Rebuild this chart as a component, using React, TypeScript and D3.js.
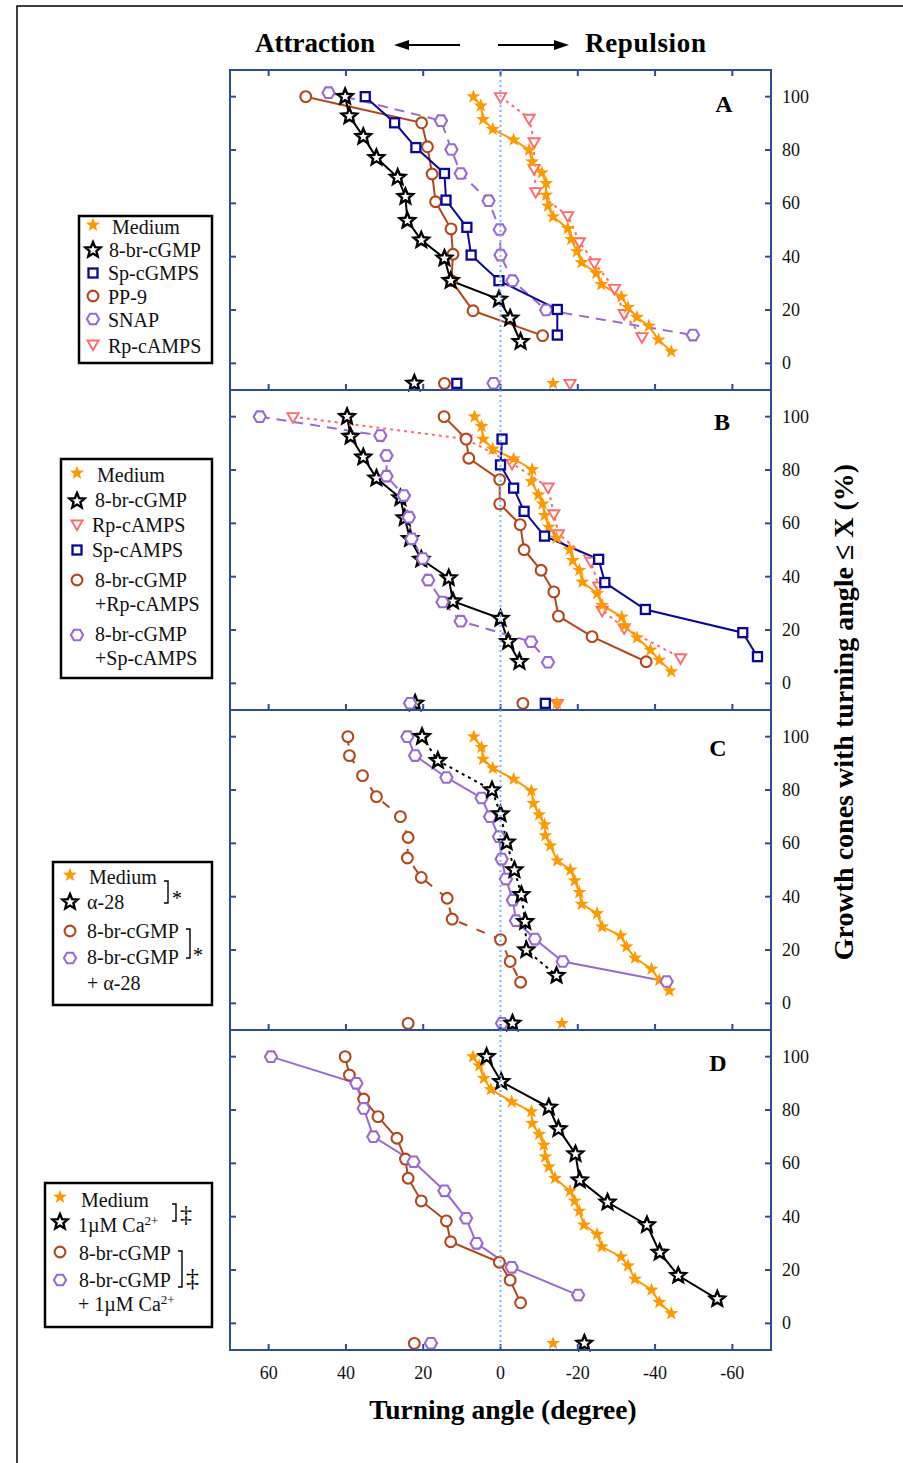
import React, { useRef, useEffect } from 'react';
import * as d3 from 'd3';

type Pt = [number, number];

// ---- Panel A : [turning angle, cumulative %] ----
const aMedium: Pt[] = [[7.0, 100], [5.1, 96.6], [4.5, 91.5], [2.0, 87.8], [-3.4, 83.8], [-7.4, 80], [-8.2, 75.6], [-10.7, 71.5], [-11.8, 67.5], [-11.8, 63.1], [-12.3, 59], [-13.6, 55], [-17.4, 50.6], [-18.3, 46.5], [-19.8, 41.9], [-21.0, 37.8], [-24.8, 33.8], [-26.1, 29.6], [-31.3, 25], [-33.0, 21], [-35.3, 17.3], [-38.4, 14], [-40.9, 8.8], [-44.2, 4.4]];
const aCgmp: Pt[] = [[40.2, 100], [39.1, 92.7], [35.5, 85], [32.1, 77.1], [26.6, 69.7], [24.6, 62.5], [24.1, 53.5], [20.5, 46.2], [14.5, 39.4], [12.9, 31], [0.4, 24], [-2.5, 16.9], [-5.2, 8.1]];
const aSpCgmps: Pt[] = [[35, 100], [27.4, 90.2], [21.9, 80.9], [14.5, 71.2], [14.1, 61.2], [8.7, 51], [7.6, 40.6], [0.4, 31], [-14.7, 20.2], [-14.7, 10.6]];
const aPP9: Pt[] = [[50.4, 100], [20.4, 90.2], [18.9, 81.2], [17.7, 71], [16.8, 60.6], [12.8, 50.4], [12.3, 40.9], [12.7, 31], [7.1, 19.7], [-10.9, 10.4]];
const aSnap: Pt[] = [[44.5, 101.5], [15.4, 91], [12.7, 80.2], [10.3, 71.2], [3.1, 61], [0.2, 50.2], [0, 40.6], [-3.1, 31], [-11.8, 20], [-49.8, 10.6]];
const aRp: Pt[] = [[0, 100], [-7.4, 91.9], [-8.7, 83.1], [-8.7, 73.1], [-9.1, 64.4], [-17.4, 55.4], [-20.4, 45.6], [-24.3, 37.7], [-29.5, 28.1], [-32, 18.7], [-36.6, 10]];
// means: medium, 8-br-cGMP, Sp-cGMPS, PP-9, SNAP, Rp-cAMPS
const meansA = [-13.6, 22.3, 11.3, 14.5, 1.8, -18];

// ---- Panel B ----
const bMedium: Pt[] = [[6.7, 100], [4.9, 96.4], [4.5, 91.6], [2.0, 87.9], [-3.4, 84.2], [-8.2, 80.2], [-8.0, 75.7], [-9.8, 70.7], [-10.9, 67.3], [-11.4, 63], [-12.5, 58.6], [-14.5, 54.5], [-17.9, 50.2], [-18.7, 46.1], [-20.4, 42.4], [-21.2, 38], [-25, 33.7], [-26.3, 29.3], [-31.4, 24.9], [-32.1, 21.6], [-35.3, 17.1], [-38.8, 12.5], [-41.1, 8.7], [-44.2, 4.4]];
const bCgmp: Pt[] = [[39.7, 100], [38.8, 92.6], [35.5, 84.8], [32.1, 76.9], [25.9, 69.5], [24.8, 62], [23.4, 54.2], [20.5, 46.5], [13.4, 39.5], [12.3, 30.8], [0, 24.3], [-2.0, 15.6], [-4.9, 8.1]];
const bRp: Pt[] = [[53.7, 100], [8.9, 91.6], [-3.0, 82.5], [-12.3, 73.6], [-13.8, 63.6], [-15, 56.1], [-23.4, 45.8], [-25.4, 36.5], [-26.3, 27.4], [-32, 20.8], [-46.6, 9.6]];
const bSpCamps: Pt[] = [[-0.4, 91.6], [0, 81.9], [-3.4, 73.2], [-6.1, 64.5], [-11.4, 55.2], [-25.4, 46.5], [-27.0, 37.8], [-37.5, 27.7], [-62.7, 19], [-66.5, 10]];
const bCgmpRp: Pt[] = [[14.6, 100], [8.9, 91.6], [8.2, 84.4], [0.2, 76.4], [0.2, 67.3], [-5.1, 59.5], [-6.1, 50.1], [-10.5, 42.4], [-13.8, 34.3], [-15, 25.2], [-23.7, 17.5], [-37.7, 8.1]];
const bCgmpSp: Pt[] = [[62.3, 100], [31.1, 92.9], [29.5, 85.4], [29.5, 77.7], [25, 70.4], [23.7, 62.3], [23, 54.2], [20.1, 46.8], [18.7, 38.7], [15, 30.5], [10.3, 23.3], [-7.9, 15.6], [-12.3, 7.9]];
// means: medium, 8-br-cGMP, Rp-cAMPS, Sp-cAMPS, +Rp, +Sp
const meansB = [-14.6, 22.1, -14.7, -11.6, -5.8, 23.4];

// ---- Panel C ----
const cMedium: Pt[] = [[6.9, 100], [4.9, 96], [4.5, 91.6], [2.0, 88.2], [-3.4, 84.1], [-8.0, 79.7], [-8.5, 75], [-10, 70.7], [-11.4, 67], [-11.6, 62.9], [-12.9, 59.1], [-14.7, 53.5], [-18.1, 50], [-19.2, 46], [-20.4, 41.6], [-21, 37.2], [-25, 33.7], [-26.3, 28.7], [-31.1, 25.4], [-32.6, 21.2], [-34.8, 17], [-39.1, 12.9], [-41.1, 8.7], [-43.7, 4.7]];
const cAlpha: Pt[] = [[20.3, 100], [16.2, 91], [2.2, 80], [0, 71], [-1.6, 60.4], [-3.6, 50], [-5.4, 40.7], [-6.4, 30.6], [-6.7, 20], [-14.5, 10.4]];
const cCgmp: Pt[] = [[39.5, 100], [39.1, 92.9], [35.7, 85.4], [32.1, 77.5], [25.9, 70], [23.9, 62.2], [24.1, 54.5], [20.5, 47.2], [13.8, 39.4], [12.5, 31.6], [0, 23.9], [-2.5, 15.7], [-5.2, 7.9]];
const cCgmpAlpha: Pt[] = [[24.1, 100], [22.1, 92.9], [14, 84.7], [4.9, 77], [2.7, 70], [0.4, 62.5], [-0.3, 54.1], [-1.4, 46.6], [-3.2, 38.7], [-4.0, 31], [-8.9, 24.1], [-16.1, 15.7], [-43, 8.2]];
// means: medium, α-28, 8-br-cGMP, 8-br-cGMP + α-28
const meansC = [-15.9, -3.1, 23.9, -0.4];

// ---- Panel D ----
const dMedium: Pt[] = [[7.1, 100], [5.5, 96.6], [4.3, 91.9], [2.5, 87.7], [-2.9, 83.1], [-8.0, 79.4], [-8.2, 75], [-10, 70.9], [-11.2, 66.9], [-11.6, 62.5], [-12.5, 58.7], [-14.1, 54.4], [-18, 49.6], [-19.2, 45.9], [-20.4, 42.1], [-21.6, 36.9], [-25, 33.4], [-26.2, 28.7], [-31.2, 25], [-33, 21.6], [-34.8, 16.6], [-39.1, 12.5], [-41.1, 7.9], [-44.2, 3.7]];
const dCa: Pt[] = [[3.6, 100], [-0.2, 90.6], [-12.5, 81], [-15, 72.9], [-19.4, 63.5], [-20.5, 53.7], [-27.7, 45.4], [-37.9, 36.9], [-41.2, 26.6], [-46, 17.9], [-56.1, 9.1]];
const dCgmp: Pt[] = [[40.2, 100], [39.1, 93.1], [35.4, 84.1], [31.7, 77.5], [26.8, 69.4], [24.6, 61.6], [23.9, 54.4], [20.5, 45.9], [14, 38.4], [12.9, 30.6], [0.3, 22.9], [-2.5, 16.2], [-5.2, 7.7]];
const dCgmpCa: Pt[] = [[59.4, 100], [37.3, 90], [35.4, 80.6], [32.9, 70], [22.5, 60.6], [14.5, 49.7], [8.9, 39.4], [6.2, 30], [-2.9, 21], [-20.1, 10.6]];
// means: medium, 1µM Ca2+, 8-br-cGMP, 8-br-cGMP + Ca2+
const meansD = [-13.6, -21.7, 22.3, 18.0];

const xTicks = [60, 40, 20, 0, -20, -40, -60];
const yTicks = [0, 20, 40, 60, 80, 100];

const ORANGE = '#FF9900';
const BLACK = '#000000';
const NAVY = '#08089A';
const BROWN = '#B4461B';
const PURPLE = '#9A6AD2';
const SALMON = '#FF6A6A';
const FRAME = '#2E4C9C';
const ZERO = '#7FB2FF';
const SERIF = "'Liberation Serif', 'Times New Roman', serif";

const starD = (R: number, r: number) => {
  const pts = d3.range(10).map(i => {
    const a = -Math.PI / 2 + i * Math.PI / 5;
    const rr = i % 2 === 0 ? R : r;
    return [rr * Math.cos(a), rr * Math.sin(a)];
  });
  return 'M' + pts.map(p => p[0].toFixed(2) + ',' + p[1].toFixed(2)).join('L') + 'Z';
};
const hexD = (R: number) => {
  const pts = d3.range(6).map(i => [R * Math.cos(i * Math.PI / 3), R * Math.sin(i * Math.PI / 3)]);
  return 'M' + pts.map(p => p[0].toFixed(2) + ',' + p[1].toFixed(2)).join('L') + 'Z';
};

function marker(g: any, kind: string, cx: number, cy: number) {
  const t = `translate(${cx},${cy})`;
  if (kind === 'med') {
    g.append('path').attr('d', starD(7.4, 3.0)).attr('transform', t).attr('fill', ORANGE);
  } else if (kind === 'star') {
    g.append('path').attr('d', starD(8, 3.6)).attr('transform', t)
      .attr('fill', '#fff').attr('stroke', BLACK).attr('stroke-width', 2.4).attr('stroke-linejoin', 'miter');
  } else if (kind === 'square') {
    g.append('rect').attr('x', cx - 4.5).attr('y', cy - 4.5).attr('width', 9).attr('height', 9)
      .attr('fill', '#fff').attr('stroke', NAVY).attr('stroke-width', 2.3);
  } else if (kind === 'circle') {
    g.append('circle').attr('cx', cx).attr('cy', cy).attr('r', 5.4)
      .attr('fill', '#fff').attr('stroke', BROWN).attr('stroke-width', 2.1);
  } else if (kind === 'hex') {
    g.append('path').attr('d', hexD(6.1)).attr('transform', t)
      .attr('fill', '#fff').attr('stroke', PURPLE).attr('stroke-width', 2.1);
  } else if (kind === 'tri') {
    g.append('path').attr('d', 'M-5.6,-3.5L5.6,-3.5L0,6.1Z').attr('transform', t)
      .attr('fill', '#fff').attr('stroke', SALMON).attr('stroke-width', 1.9);
  }
}

const COLOR: Record<string, string> = { med: ORANGE, star: BLACK, square: NAVY, circle: BROWN, hex: PURPLE, tri: SALMON };

interface Series { data: Pt[]; mean: number; kind: string; dash?: string }

const panels: { letter: string; top: number; lx: number; ly: number; series: Series[] }[] = [
  {
    letter: 'A', top: 70, lx: 724, ly: 112, series: [
      { data: aRp, mean: meansA[5], kind: 'tri', dash: '3,4' },
      { data: aMedium, mean: meansA[0], kind: 'med' },
      { data: aPP9, mean: meansA[3], kind: 'circle' },
      { data: aSnap, mean: meansA[4], kind: 'hex', dash: '10,7' },
      { data: aSpCgmps, mean: meansA[2], kind: 'square' },
      { data: aCgmp, mean: meansA[1], kind: 'star' },
    ]
  },
  {
    letter: 'B', top: 390, lx: 722, ly: 430, series: [
      { data: bRp, mean: meansB[2], kind: 'tri', dash: '3,4' },
      { data: bMedium, mean: meansB[0], kind: 'med' },
      { data: bCgmpRp, mean: meansB[4], kind: 'circle' },
      { data: bCgmp, mean: meansB[1], kind: 'star' },
      { data: bCgmpSp, mean: meansB[5], kind: 'hex', dash: '10,7' },
      { data: bSpCamps, mean: meansB[3], kind: 'square' },
    ]
  },
  {
    letter: 'C', top: 710, lx: 718, ly: 756, series: [
      { data: cMedium, mean: meansC[0], kind: 'med' },
      { data: cCgmp, mean: meansC[2], kind: 'circle', dash: '9,10' },
      { data: cCgmpAlpha, mean: meansC[3], kind: 'hex' },
      { data: cAlpha, mean: meansC[1], kind: 'star', dash: '3,4' },
    ]
  },
  {
    letter: 'D', top: 1030, lx: 718, ly: 1071, series: [
      { data: dMedium, mean: meansD[0], kind: 'med' },
      { data: dCa, mean: meansD[1], kind: 'star' },
      { data: dCgmp, mean: meansD[2], kind: 'circle' },
      { data: dCgmpCa, mean: meansD[3], kind: 'hex' },
    ]
  },
];

// legend rows: [marker kind or '', marker y, text, text x, text y]
const legends = [
  {
    box: [79, 216, 133, 147], mx: 93, rows: [
      ['med', 225, 'Medium', 112, 234], ['star', 250, '8-br-cGMP', 109, 257], ['square', 273, 'Sp-cGMPS', 108, 280],
      ['circle', 296, 'PP-9', 108, 304], ['hex', 319, 'SNAP', 108, 327], ['tri', 344, 'Rp-cAMPS', 108, 353],
    ]
  },
  {
    box: [61, 459, 151, 219], mx: 77, rows: [
      ['med', 473, 'Medium', 97, 482], ['star', 501, '8-br-cGMP', 95, 507], ['tri', 524, 'Rp-cAMPS', 92, 532],
      ['square', 550, 'Sp-cAMPS', 92, 557], ['circle', 580, '8-br-cGMP', 95, 587], ['', 0, '+Rp-cAMPS', 95, 611],
      ['hex', 635, '8-br-cGMP', 95, 641], ['', 0, '+Sp-cAMPS', 95, 665],
    ]
  },
  {
    box: [53, 862, 159, 143], mx: 70, rows: [
      ['med', 875, 'Medium', 89, 884], ['star', 902, 'α-28', 87, 909], ['circle', 931, '8-br-cGMP', 87, 938],
      ['hex', 958, '8-br-cGMP', 87, 964], ['', 0, '+ α-28', 87, 990],
    ]
  },
  {
    box: [45, 1183, 167, 144], mx: 60, rows: [
      ['med', 1197, 'Medium', 81, 1207], ['star', 1222, 'CA', 78, 1232], ['circle', 1252, '8-br-cGMP', 79, 1260],
      ['hex', 1280, '8-br-cGMP', 79, 1287], ['', 0, '+ CA', 78, 1311],
    ]
  },
];

function CumulativeTurningChart() {
  const svgRef = useRef<SVGSVGElement | null>(null);

  useEffect(() => {
    const svg = d3.select(svgRef.current);
    svg.selectAll('*').remove();

    const plotLeft = 230;
    const plotRight = 771;
    const panelH = 320;
    const x = d3.scaleLinear().domain([70, -70]).range([plotLeft, plotRight]);

    // outer border
    svg.append('rect').attr('x', 17).attr('y', 6).attr('width', 900).attr('height', 1470)
      .attr('fill', 'none').attr('stroke', '#111').attr('stroke-width', 1.6);

    // title
    const tg = svg.append('g').attr('font-family', SERIF).attr('font-weight', 'bold').attr('font-size', 27);
    tg.append('text').attr('x', 255).attr('y', 52).text('Attraction');
    tg.append('text').attr('x', 706).attr('y', 52).attr('text-anchor', 'end').attr('textLength', 121).text('Repulsion');
    tg.append('line').attr('x1', 404).attr('x2', 460).attr('y1', 45).attr('y2', 45).attr('stroke', '#000').attr('stroke-width', 2);
    tg.append('path').attr('d', 'M394,45L409,40L409,50Z').attr('fill', '#000');
    tg.append('line').attr('x1', 498).attr('x2', 558).attr('y1', 45).attr('y2', 45).attr('stroke', '#000').attr('stroke-width', 2);
    tg.append('path').attr('d', 'M569,45L554,40L554,50Z').attr('fill', '#000');

    panels.forEach((p, pi) => {
      const y = d3.scaleLinear().domain([-10, 110]).range([p.top + panelH, p.top]);
      const g = svg.append('g');
      const line = d3.line<Pt>().x(d => x(d[0])).y(d => y(d[1]));

      p.series.forEach(s => {
        g.append('path').attr('d', line(s.data)).attr('fill', 'none')
          .attr('stroke', COLOR[s.kind]).attr('stroke-width', 2)
          .attr('stroke-dasharray', s.dash || null);
      });
      p.series.forEach(s => {
        s.data.forEach(d => marker(g, s.kind, x(d[0]), y(d[1])));
      });
      p.series.forEach(s => marker(g, s.kind, x(s.mean), y(-7.5)));

      // ticks inward
      const ax = svg.append('g').attr('stroke', FRAME).attr('stroke-width', 2);
      yTicks.forEach(t => {
        ax.append('line').attr('x1', plotLeft).attr('x2', plotLeft + 6).attr('y1', y(t)).attr('y2', y(t));
        ax.append('line').attr('x1', plotRight - 6).attr('x2', plotRight).attr('y1', y(t)).attr('y2', y(t));
      });
      xTicks.forEach(t => {
        ax.append('line').attr('x1', x(t)).attr('x2', x(t)).attr('y1', p.top + panelH).attr('y2', p.top + panelH - 6);
        if (pi === 0) ax.append('line').attr('x1', x(t)).attr('x2', x(t)).attr('y1', p.top).attr('y2', p.top + 6);
      });
      ax.append('rect').attr('x', plotLeft).attr('y', p.top).attr('width', plotRight - plotLeft).attr('height', panelH)
        .attr('fill', 'none');

      const lab = svg.append('g').attr('font-family', SERIF).attr('font-size', 18).attr('fill', '#111');
      yTicks.forEach(t => {
        lab.append('text').attr('x', 782).attr('y', y(t) + 6).text(String(t));
      });
      svg.append('text').attr('x', p.lx).attr('y', p.ly).attr('text-anchor', 'middle')
        .attr('font-family', SERIF).attr('font-weight', 'bold').attr('font-size', 24).text(p.letter);
    });

    // zero line
    svg.append('line').attr('x1', x(0)).attr('x2', x(0)).attr('y1', 70).attr('y2', 1350)
      .attr('stroke', ZERO).attr('stroke-width', 2).attr('stroke-dasharray', '2,3');

    // bottom tick labels + title
    const bl = svg.append('g').attr('font-family', SERIF).attr('font-size', 18).attr('fill', '#111');
    xTicks.forEach(t => {
      bl.append('text').attr('x', x(t)).attr('y', 1379).attr('text-anchor', 'middle').text(String(t));
    });
    svg.append('text').attr('x', 503).attr('y', 1419).attr('text-anchor', 'middle')
      .attr('font-family', SERIF).attr('font-weight', 'bold').attr('font-size', 27.5).text('Turning angle (degree)');

    svg.append('text').attr('transform', 'translate(853,712) rotate(-90)').attr('text-anchor', 'middle')
      .attr('font-family', SERIF).attr('font-weight', 'bold').attr('font-size', 28)
      .text('Growth cones with turning angle ≤ X (%)');

    // legends
    legends.forEach(lg => {
      const g = svg.append('g');
      const [bx, by, bw, bh] = lg.box;
      g.append('rect').attr('x', bx).attr('y', by).attr('width', bw).attr('height', bh)
        .attr('fill', '#fff').attr('stroke', '#000').attr('stroke-width', 2.5);
      lg.rows.forEach(r => {
        const [kind, my, label, tx, ty] = r as [string, number, string, number, number];
        if (kind) marker(g, kind, lg.mx, my);
        const txt = g.append('text').attr('x', tx).attr('y', ty)
          .attr('font-family', SERIF).attr('font-size', 20).attr('fill', '#111');
        if (label.includes('CA')) {
          txt.append('tspan').text(label.replace('CA', '1µM Ca'));
          txt.append('tspan').attr('font-size', 13).attr('dy', -7).text('2+');
        } else {
          txt.text(label);
        }
      });
    });

    // brackets and significance marks
    const br = svg.append('g').attr('fill', 'none').attr('stroke', '#000').attr('stroke-width', 1.4);
    const bracket = (bx: number, y1: number, y2: number) =>
      br.append('path').attr('d', `M${bx - 4},${y1}H${bx}V${y2}H${bx - 4}`);
    bracket(168, 881, 903);
    bracket(190, 929, 958);
    bracket(176, 1204, 1221);
    bracket(182, 1251, 1287);
    const sig = svg.append('g').attr('font-family', SERIF).attr('fill', '#000');
    sig.append('text').attr('x', 172).attr('y', 905).attr('font-size', 20).text('*');
    sig.append('text').attr('x', 193).attr('y', 962).attr('font-size', 20).text('*');
    sig.append('text').attr('x', 180).attr('y', 1222).attr('font-size', 24).text('‡');
    sig.append('text').attr('x', 186).attr('y', 1286).attr('font-size', 26).text('‡');
  }, []);

  return (
    <svg ref={svgRef} width={903} height={1463}
      style={{ position: 'absolute', left: 0, top: 0, display: 'block', background: '#fff' }} />
  );
}

export default function App() {
  return <CumulativeTurningChart />;
}
